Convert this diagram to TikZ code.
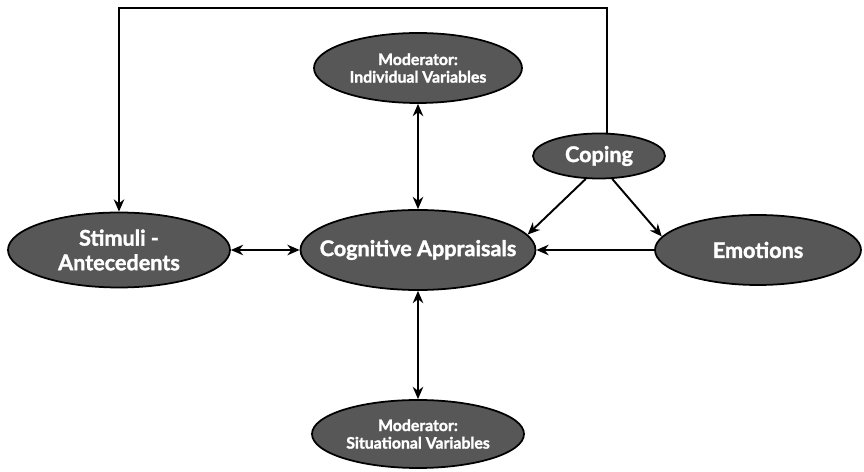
\documentclass[tikz,border=0pt]{standalone}
\usepackage{fontspec}
\setsansfont{Lato}[BoldFeatures={FakeBold=1.6}]
\usepackage{tikz}
\definecolor{bubble}{rgb}{0.34,0.34,0.34}
\usetikzlibrary{shapes.geometric}
\usetikzlibrary{arrows.meta}
\usetikzlibrary{positioning}

\begin{document}
\begin{tikzpicture}[
    bubble/.style={ellipse, fill=bubble, draw=black, line width=1pt, inner xsep=-0.8cm, inner ysep=-0.4cm,
        text=white, align=center, font=\sffamily\bfseries\fontsize{12.3}{14}\selectfont},
    smallbubble/.style={bubble, font=\sffamily\bfseries\fontsize{9}{10}\selectfont},
    link/.style={line width=1.1pt, -{Stealth[length=7pt,width=6pt]}},
    twolink/.style={line width=1.1pt, {Stealth[length=7pt,width=6pt]}-{Stealth[length=7pt,width=6pt]}}]

    \useasboundingbox (0,0) rectangle (17.28,9.44);

    % the five ellipses
    \node[smallbubble, minimum width=4.16cm, minimum height=1.4cm] (modtop) at (8.36,8.08) {Moderator:\\Individual Variables};
    \node[bubble, minimum width=2.64cm, minimum height=0.9cm] (coping) at (11.98,6.32) {Coping};
    \node[bubble, minimum width=4.44cm, minimum height=1.5cm] (stimuli) at (2.38,4.44) {Stimuli -\\Antecedents};
    \node[bubble, minimum width=4.7cm, minimum height=1.6cm] (cogapp) at (8.36,4.44) {Cognitive Appraisals};
    \node[bubble, minimum width=4.12cm, minimum height=1.4cm] (emotions) at (15.16,4.44) {Emotions};
    \node[smallbubble, minimum width=4.24cm, minimum height=1.36cm] (modbot) at (8.36,0.76) {Moderator:\\Situational Variables};

    % feedback loop over the top
    \coordinate (loopcorner) at (2.38,9.28);
    \draw[line width=1.1pt, -{Stealth[length=7pt,width=6pt]}] (coping.70) |- (loopcorner) -- (stimuli.north);

    \draw[twolink] (stimuli.east) -- (cogapp.west);
    \draw[twolink] (cogapp.north) -- (modtop.south);
    \draw[twolink] (cogapp.south) -- (modbot.north);
    \draw[link] (coping.240) -- (cogapp.8);
    \draw[link] (coping.300) -- (emotions.172);
    \draw[link] (emotions.west) -- (cogapp.east);

\end{tikzpicture}
\end{document}
